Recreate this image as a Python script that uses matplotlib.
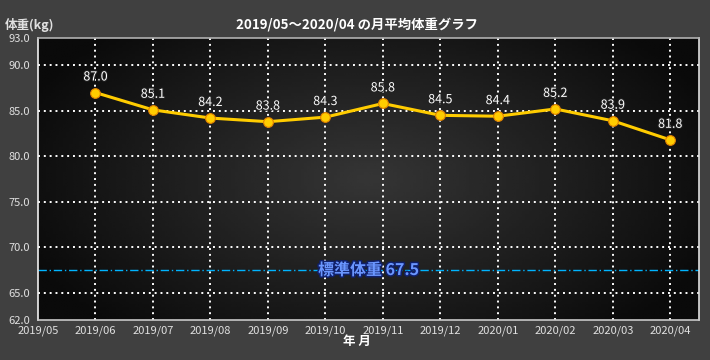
import numpy as np
import matplotlib
matplotlib.use('Agg')
import matplotlib.pyplot as plt
import matplotlib.patheffects as pe

plt.rcParams['font.family'] = ['Noto Sans CJK JP', 'DejaVu Sans']

# data
months = ['2019/05', '2019/06', '2019/07', '2019/08', '2019/09', '2019/10',
          '2019/11', '2019/12', '2020/01', '2020/02', '2020/03', '2020/04']
weights = [None, 87.0, 85.1, 84.2, 83.8, 84.3, 85.8, 84.5, 84.4, 85.2, 83.9, 81.8]
y_ticks = [62.0, 65.0, 70.0, 75.0, 80.0, 85.0, 90.0, 93.0]
standard_weight = 67.5
title = '2019/05～2020/04 の月平均体重グラフ'

# figure
fig = plt.figure(figsize=(7.1, 3.6), dpi=100, facecolor='#404040')
ax = fig.add_axes([38 / 710, 40 / 360, 661 / 710, 282 / 360])
ax.set_facecolor('#111111')
ax.set_xlim(0, 11.5)
ax.set_ylim(62, 93)

# background gradient
gx = np.linspace(-1, 1, 200)
gy = np.linspace(-1, 1, 100)
GX, GY = np.meshgrid(gx, gy)
r = np.sqrt(GX ** 2 * 1.0 + GY ** 2 * 0.6)
shade = np.clip(0.21 - 0.15 * r, 0.04, 0.21)
ax.imshow(shade, cmap='gray', vmin=0, vmax=1, extent=[0, 11.5, 62, 93],
          aspect='auto', zorder=0, interpolation='bilinear')

# grid
for i in range(1, len(months)):
    ax.axvline(i, color='white', linestyle=(0, (1, 2)), linewidth=1.4, zorder=1)
for y in y_ticks[1:-1]:
    ax.axhline(y, color='white', linestyle=(0, (1, 2)), linewidth=1.4, zorder=1)

# standard weight
ax.axhline(standard_weight, color='#00b4ff', linestyle=(0, (6, 2, 1, 2)), linewidth=1, zorder=2)
ax.text(0.5, standard_weight, f'標準体重 {standard_weight}', color='#6a96ff', fontsize=11.5,
        fontweight='bold', ha='center', va='center', zorder=5,
        transform=ax.get_yaxis_transform(),
        path_effects=[pe.withStroke(linewidth=2.2, foreground='#10206a')])

# line
xs = [i for i, w in enumerate(weights) if w is not None]
ys = [w for w in weights if w is not None]
ax.plot(xs, ys, color='#ffcc00', linewidth=2.2, marker='o', markersize=7,
        markerfacecolor='#ffcc00', markeredgecolor='#e08000', markeredgewidth=0.8, zorder=4)
for x, y in zip(xs, ys):
    ax.text(x, y + 1.0, f'{y:.1f}', color='white', fontsize=9, ha='center', va='bottom', zorder=5,
            path_effects=[pe.withStroke(linewidth=1.5, foreground='#222222')])

# ticks
ax.set_xticks(range(len(months)))
ax.set_xticklabels(months)
ax.set_yticks(y_ticks)
ax.set_yticklabels([f'{y:.1f}' for y in y_ticks])
ax.tick_params(axis='both', colors='#e0e0e0', labelsize=8, length=0)
ax.tick_params(axis='y', pad=6)
ax.tick_params(axis='x', pad=4)

# spines
ax.spines['left'].set_color('#f0f0f0')
ax.spines['bottom'].set_color('#c8c8c8')
ax.spines['top'].set_color('#b0b0b0')
ax.spines['right'].set_color('#e0e0e0')
for s in ax.spines.values():
    s.set_linewidth(1.2)

# titles
fig.text(357 / 710, 1 - 25 / 360, title, color='white', fontsize=9.6, fontweight='bold',
         ha='center', va='center')
fig.text(5 / 710, 1 - 25 / 360, '体重(kg)', color='#e0e0e0', fontsize=9, fontweight='bold',
         ha='left', va='center')
fig.text(357 / 710, 1 - 341 / 360, '年 月', color='white', fontsize=9, fontweight='bold',
         ha='center', va='center')

plt.savefig('out.png', dpi=100, facecolor=fig.get_facecolor())
